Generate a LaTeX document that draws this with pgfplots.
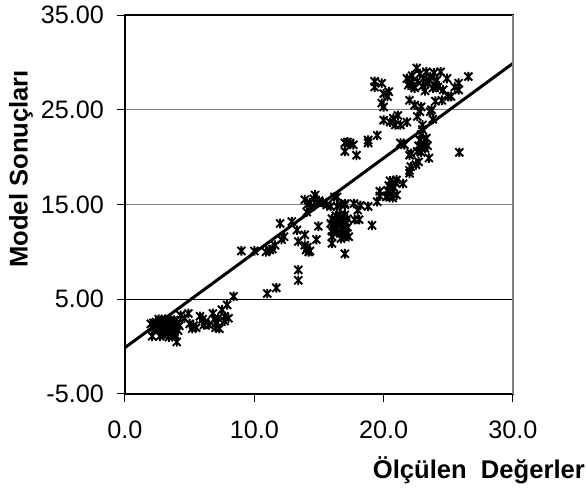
\documentclass[border=0pt]{standalone}
\usepackage{fontspec}
\setmainfont{Liberation Sans}
\usepackage{pgfplots}
\pgfplotsset{compat=1.18}
\pgfdeclareplotmark{xstar}{%
  \pgfpathmoveto{\pgfqpoint{-\pgfplotmarksize}{-\pgfplotmarksize}}%
  \pgfpathlineto{\pgfqpoint{\pgfplotmarksize}{\pgfplotmarksize}}%
  \pgfpathmoveto{\pgfqpoint{-\pgfplotmarksize}{\pgfplotmarksize}}%
  \pgfpathlineto{\pgfqpoint{\pgfplotmarksize}{-\pgfplotmarksize}}%
  \pgfpathmoveto{\pgfqpoint{0pt}{-1.2\pgfplotmarksize}}%
  \pgfpathlineto{\pgfqpoint{0pt}{1.2\pgfplotmarksize}}%
  \pgfusepathqstroke}
\begin{document}
\begin{tikzpicture}
\path[use as bounding box] (-62.5pt,-49.5pt) rectangle (230.5pt,197pt);
\begin{axis}[
  at={(0,0)}, anchor=south west,
  scale only axis, width=194pt, height=189.5pt,
  xmin=0, xmax=30, ymin=-5, ymax=35,
  xtick={0,10,20,30}, ytick={-5,5,15,25,35},
  tick pos=left, tick align=outside,
  major tick length=4pt,
  tick style={black, line width=0.5pt},
  ymajorgrids, grid style={gray, line width=0.6pt},
  axis line style={black, line width=0.6pt},
  /pgf/number format/assume math mode=true,
  xticklabel style={/pgf/number format/fixed, /pgf/number format/zerofill, /pgf/number format/precision=1, yshift=-6pt},
  yticklabel style={/pgf/number format/fixed, /pgf/number format/zerofill, /pgf/number format/precision=2, xshift=-3pt},
  tick label style={font=\fontsize{12.6}{14}\selectfont},
  label style={font=\bfseries\fontsize{12.8}{14}\selectfont},
  xlabel={Ölçülen\ \ Değerler},
  ylabel={Model Sonuçları},
  xlabel style={at={(axis description cs:0.912,-0.2005)}, anchor=center},
  ylabel style={at={(axis description cs:-0.268,0.594)}, anchor=center},
  clip=false,
]
\addplot[black, line width=0.6pt, forget plot] coordinates {(0,5) (30,5)};
\addplot[only marks, mark=xstar, mark size=2pt, mark options={line width=0.95pt, black}] coordinates {
(2.0,2.4) (2.2,2.5) (2.4,2.6) (2.5,2.3) (2.6,2.1) (2.7,2.5) (2.8,2.7) (2.9,2.2) (3.0,1.9) (3.1,2.4)
(3.2,2.0) (3.3,1.6) (3.4,2.3) (3.5,1.8) (3.6,2.7) (3.7,2.2) (3.8,1.5) (3.9,2.0) (4.0,2.5) (4.1,1.7)
(2.1,1.1) (2.7,1.1) (3.0,1.2) (2.5,1.8) (2.9,1.6) (3.3,2.8) (3.6,1.3) (4.0,0.5) (3.8,2.8) (2.2,2.0)
(2.6,2.9) (3.1,2.9) (3.5,2.5) (3.9,1.2) (4.2,2.2) (3.4,1.0) (2.3,2.2) (3.2,2.6) (3.7,1.9) (2.8,1.9)
(4.3,3.3) (4.6,3.0) (4.9,3.5) (5.2,1.9) (5.0,2.4) (5.3,2.2) (5.8,3.2) (6.0,2.9) (6.2,2.6) (6.5,2.3)
(6.8,3.5) (6.9,2.9) (7.1,2.5) (7.0,2.0) (7.3,1.9) (7.5,3.9) (7.7,3.2) (7.9,4.4) (8.0,3.0) (8.4,5.3)
(7.2,3.0) (6.1,2.3) (5.5,2.0) (7.7,2.7)
(9.0,10.1) (10.0,10.1) (10.9,10.0) (11.2,10.2) (11.4,10.3) (11.6,10.7) (12.0,13.0) (12.1,11.3) (12.3,11.6) (12.9,13.2)
(13.3,12.3) (13.4,11.1) (13.4,8.1) (13.4,7.0) (11.0,5.6) (11.7,6.2) (13.9,11.8) (14.0,10.2) (14.2,10.0) (13.9,10.7)
(14.1,10.5) (14.3,10.1) (14.05,14.2) (13.9,15.5) (14.3,15.2) (14.7,16.0) (14.9,15.2) (14.95,12.7) (14.8,11.3) (15.3,15.2)
(15.6,14.95) (15.9,14.8) (16.4,15.8) (16.4,14.8) (17.0,14.95) (16.0,11.6) (16.0,10.9) (16.7,11.4) (17.0,9.8) (14.4,14.8)
(14.1,15.0) (15.0,15.4) (16.2,15.8) (16.7,15.0) (14.6,15.6)
(15.9,13.0) (16.0,13.5) (16.1,12.7) (16.2,13.2) (16.3,13.8) (16.4,12.4) (16.5,13.0) (16.6,13.6) (16.7,12.8) (16.8,13.3)
(16.9,12.5) (17.0,13.9) (17.1,13.1) (17.2,12.6) (16.4,12.0) (17.1,11.9) (17.3,11.6) (16.9,11.6) (16.9,12.0) (17.0,12.3)
(16.2,12.5) (16.6,13.9) (17.2,13.5) (16.0,12.2)
(17.0,21.5) (17.2,21.6) (17.4,21.5) (17.66,21.3) (17.0,20.6) (17.9,20.2) (18.8,21.8) (18.8,21.5) (19.5,22.3)
(17.0,15.1) (17.7,15.1) (18.2,14.9) (18.0,14.4) (18.8,14.8) (17.75,13.4) (18.1,13.4) (19.1,12.8) (19.5,15.3) (19.7,15.9)
(19.7,16.4) (20.2,15.8) (20.3,16.5) (20.4,17.0) (20.5,17.5) (20.6,16.2) (20.7,15.7) (20.8,16.8) (20.9,17.3) (21.0,17.6)
(21.0,16.0) (21.5,17.2) (20.3,15.9) (20.6,16.6)
(22.0,18.6) (22.0,18.3) (22.1,19.0) (22.5,19.2) (22.7,19.5) (22.0,20.2) (22.1,20.4) (23.5,19.9) (21.3,21.5) (21.6,21.3)
(22.6,20.6) (22.7,21.2) (22.8,21.8) (22.9,22.4) (23.0,22.9) (23.1,21.5) (23.2,20.9) (23.3,22.0) (23.4,21.2) (22.9,20.5)
(23.0,21.0) (25.85,20.5)
(19.3,28.0) (19.85,27.8) (19.3,27.4) (20.0,26.7) (20.4,26.9) (20.3,26.4) (19.85,25.7) (20.0,25.3) (20.0,23.9) (20.5,23.7)
(20.75,24.1) (21.1,24.4) (20.9,23.4) (21.3,23.4) (21.8,23.7) (22.0,26.0) (22.4,25.5) (22.8,24.8) (22.9,25.3) (22.6,24.3)
(23.0,23.4) (23.6,24.8) (23.8,24.0) (24.0,25.9) (24.5,26.0) (25.0,26.4) (25.2,26.4) (25.8,27.8) (26.55,28.5) (23.7,25.0)
(21.8,28.3) (22.0,27.8) (22.2,28.6) (22.4,27.3) (22.56,29.4) (22.6,28.0) (22.8,28.8) (23.0,27.5) (23.1,28.3) (23.3,29.0)
(23.4,27.8) (23.6,28.5) (23.8,27.3) (23.9,28.9) (24.1,28.1) (24.4,29.0) (24.2,27.4) (24.6,27.1) (24.9,28.3) (25.5,27.4)
(25.8,27.1) (22.3,27.5) (23.2,27.0) (24.0,27.6) (22.2,27.9) (23.5,28.1) (21.9,27.6)
};
\addplot[black, line width=1.5pt] coordinates {(0,-0.1) (30,29.9)};
\draw[gray, line width=1pt] (rel axis cs:1,0) -- (rel axis cs:1,1);
\end{axis}
\end{tikzpicture}
\end{document}
